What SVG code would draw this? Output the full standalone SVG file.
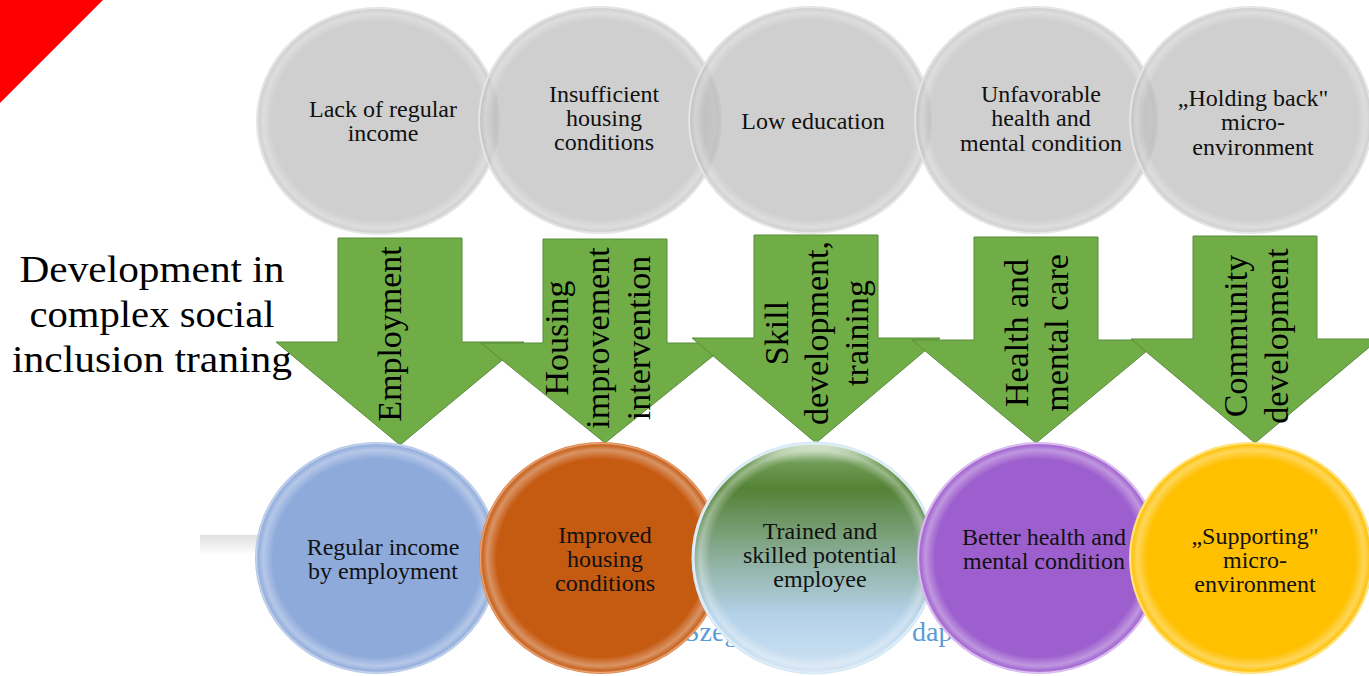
<svg xmlns="http://www.w3.org/2000/svg" width="1369" height="676" viewBox="0 0 1369 676">
<defs>
<radialGradient id="gloss" cx="50%" cy="50%" r="50%">
<stop offset="0.86" stop-color="#fff" stop-opacity="0"/>
<stop offset="0.94" stop-color="#fff" stop-opacity="0.35"/>
<stop offset="0.98" stop-color="#fff" stop-opacity="0.08"/>
<stop offset="1" stop-color="#fff" stop-opacity="0.3"/>
</radialGradient>
<radialGradient id="glossTop" cx="50%" cy="50%" r="50%">
<stop offset="0.88" stop-color="#fff" stop-opacity="0"/>
<stop offset="0.95" stop-color="#fff" stop-opacity="0.3"/>
<stop offset="0.985" stop-color="#fff" stop-opacity="0.05"/>
<stop offset="1" stop-color="#fff" stop-opacity="0.25"/>
</radialGradient>
<linearGradient id="greenFill" x1="0" y1="0" x2="0" y2="1">
<stop offset="0" stop-color="#d8e6d0"/>
<stop offset="0.09" stop-color="#6e9b55"/>
<stop offset="0.2" stop-color="#548235"/>
<stop offset="0.5" stop-color="#8daf9c"/>
<stop offset="0.75" stop-color="#b4d2ea"/>
<stop offset="1" stop-color="#cfe2f3"/>
</linearGradient>
<linearGradient id="shadowBar" x1="0" y1="0" x2="0" y2="1">
<stop offset="0" stop-color="#e0e0e0"/>
<stop offset="1" stop-color="#ffffff"/>
</linearGradient>
<style>
.top{fill:#bdbdbd;fill-opacity:.72;stroke:#e2e2e2;stroke-width:2}
.glt{fill:url(#glossTop)}
.gl{fill:url(#gloss)}
.lbl{font-family:"Liberation Serif","Times New Roman",serif;font-size:24px;fill:#111;text-anchor:middle}
.arr{fill:#70ad47;stroke:#5b8c3c;stroke-width:1}
.vt{font-family:"Liberation Serif","Times New Roman",serif;font-size:34px;fill:#000;text-anchor:middle}
.ttl{font-family:"Liberation Serif","Times New Roman",serif;font-size:38px;fill:#000;text-anchor:middle}
.bg{font-family:"Liberation Serif","Times New Roman",serif;font-size:28px;fill:#5b9bd5}
</style>
</defs>
<rect width="1369" height="676" fill="#fff"/>
<polygon points="0,0 103,0 0,103" fill="#ff0000"/>
<rect x="200" y="535" width="300" height="20" fill="url(#shadowBar)"/>
<text class="bg" x="684" y="641">Szeg</text>
<text class="bg" x="912" y="641">dap</text>

<g id="title">
<text class="ttl" x="152" y="282" textLength="265" lengthAdjust="spacingAndGlyphs">Development in</text>
<text class="ttl" x="152" y="327" textLength="245" lengthAdjust="spacingAndGlyphs">complex social</text>
<text class="ttl" x="152" y="372" textLength="280" lengthAdjust="spacingAndGlyphs">inclusion traning</text>
</g>

<g id="problem-income">
<ellipse class="top" cx="378" cy="121" rx="121" ry="113"/>
<ellipse class="glt" cx="378" cy="121" rx="121" ry="113"/>
<text class="lbl" x="383" y="117">Lack of regular</text>
<text class="lbl" x="383" y="141">income</text>
</g>
<g id="problem-housing">
<ellipse class="top" cx="600" cy="120" rx="121" ry="113"/>
<ellipse class="glt" cx="600" cy="120" rx="121" ry="113"/>
<text class="lbl" x="604" y="102">Insufficient</text>
<text class="lbl" x="604" y="126">housing</text>
<text class="lbl" x="604" y="150">conditions</text>
</g>
<g id="problem-education">
<ellipse class="top" cx="810" cy="120" rx="121" ry="113"/>
<ellipse class="glt" cx="810" cy="120" rx="121" ry="113"/>
<text class="lbl" x="813" y="129">Low education</text>
</g>
<g id="problem-health">
<ellipse class="top" cx="1036" cy="120" rx="121" ry="113"/>
<ellipse class="glt" cx="1036" cy="120" rx="121" ry="113"/>
<text class="lbl" x="1041" y="102">Unfavorable</text>
<text class="lbl" x="1041" y="126">health and</text>
<text class="lbl" x="1041" y="151">mental condition</text>
</g>
<g id="problem-environment">
<ellipse class="top" cx="1251" cy="120" rx="121" ry="113"/>
<ellipse class="glt" cx="1251" cy="120" rx="121" ry="113"/>
<text class="lbl" x="1253" y="106">„Holding back"</text>
<text class="lbl" x="1253" y="130">micro-</text>
<text class="lbl" x="1253" y="155">environment</text>
</g>

<g id="connectors">
<g id="arrow-employment">
<path class="arr" d="M338,238 H462 V342 H524 L400,445 L276,342 H338 Z"/>
<text class="vt" transform="translate(401,334) rotate(-90)">Employment</text>
</g>
<g id="arrow-housing">
<path class="arr" d="M543,239 H667 V343 H729 L605,443 L481,343 H543 Z"/>
<text class="vt" transform="translate(568,338) rotate(-90)"><tspan x="0" y="0">Housing</tspan><tspan x="0" y="41">improvement</tspan><tspan x="0" y="82">intervention</tspan></text>
</g>
<g id="arrow-skill">
<path class="arr" d="M754,235 H878 V338 H940 L816,443 L692,338 H754 Z"/>
<text class="vt" transform="translate(788,333) rotate(-90)"><tspan x="0" y="0">Skill</tspan><tspan x="0" y="40">development,</tspan><tspan x="0" y="80">training</tspan></text>
</g>
<g id="arrow-health">
<path class="arr" d="M974,237 H1098 V340 H1160 L1036,443 L912,340 H974 Z"/>
<text class="vt" transform="translate(1028,333) rotate(-90)"><tspan x="0" y="0">Health and</tspan><tspan x="0" y="40">mental care</tspan></text>
</g>
<g id="arrow-community">
<path class="arr" d="M1193,236 H1317 V339 H1379 L1255,443 L1131,339 H1193 Z"/>
<text class="vt" transform="translate(1247,336) rotate(-90)"><tspan x="0" y="0">Community</tspan><tspan x="0" y="41">development</tspan></text>
</g>
</g>

<g id="result-income">
<ellipse cx="377" cy="558" rx="121" ry="115" fill="#8eaadb" stroke="#b4c7e7" stroke-width="2"/>
<ellipse class="gl" cx="377" cy="558" rx="121" ry="115"/>
<text class="lbl" x="383" y="555">Regular income</text>
<text class="lbl" x="383" y="579">by employment</text>
</g>
<g id="result-housing">
<ellipse cx="601" cy="558" rx="121" ry="115" fill="#c55a11" stroke="#e08a50" stroke-width="2"/>
<ellipse class="gl" cx="601" cy="558" rx="121" ry="115"/>
<text class="lbl" x="605" y="543">Improved</text>
<text class="lbl" x="605" y="567">housing</text>
<text class="lbl" x="605" y="591">conditions</text>
</g>
<g id="result-skills">
<ellipse cx="814" cy="558" rx="121" ry="115" fill="url(#greenFill)" stroke="#d6e9f5" stroke-width="3"/>
<ellipse class="gl" cx="814" cy="558" rx="121" ry="115"/>
<text class="lbl" x="820" y="539">Trained and</text>
<text class="lbl" x="820" y="563">skilled  potential</text>
<text class="lbl" x="820" y="587">employee</text>
</g>
<g id="result-health">
<ellipse cx="1039" cy="558" rx="121" ry="115" fill="#9e5fce" stroke="#d6b3ee" stroke-width="2"/>
<ellipse class="gl" cx="1039" cy="558" rx="121" ry="115"/>
<text class="lbl" x="1044" y="545">Better health and</text>
<text class="lbl" x="1044" y="569">mental condition</text>
</g>
<g id="result-environment">
<ellipse cx="1251" cy="558" rx="121" ry="115" fill="#ffc000" stroke="#ffe070" stroke-width="2"/>
<ellipse class="gl" cx="1251" cy="558" rx="121" ry="115"/>
<text class="lbl" x="1255" y="544">„Supporting"</text>
<text class="lbl" x="1255" y="568">micro-</text>
<text class="lbl" x="1255" y="592">environment</text>
</g>
</svg>
